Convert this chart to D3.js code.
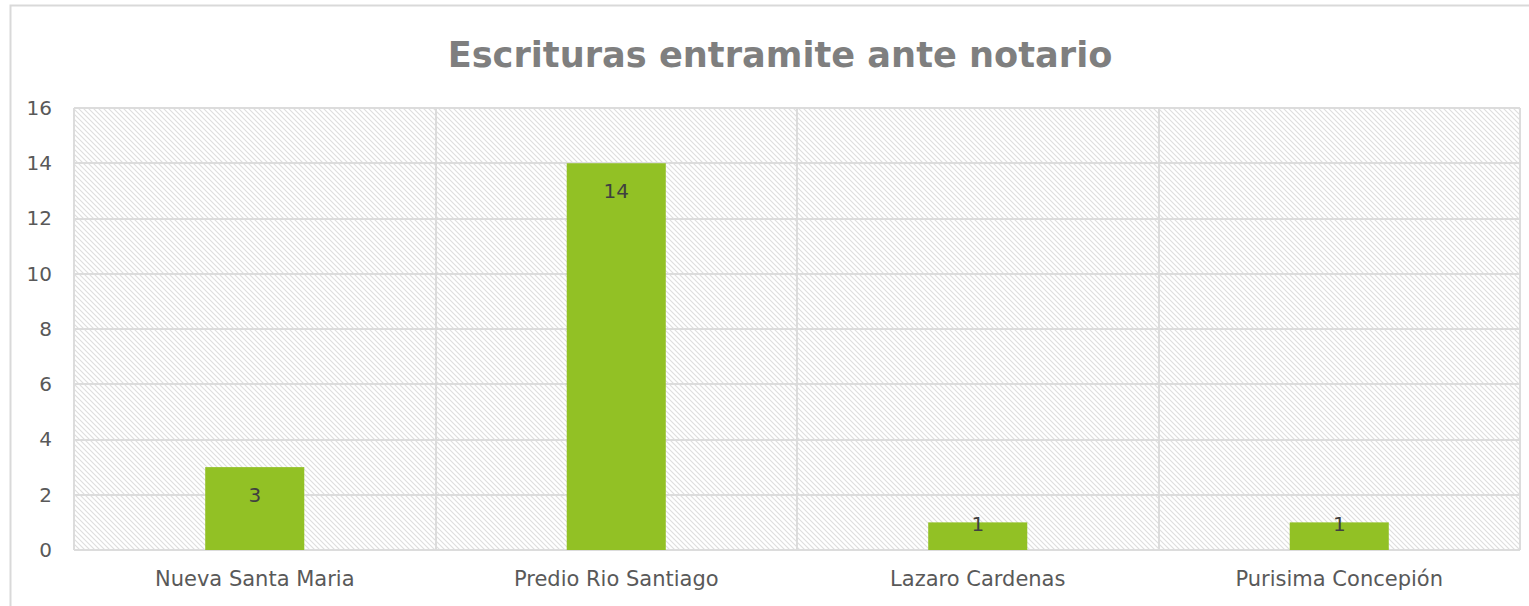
<!DOCTYPE html>
<html>
<head>
<meta charset="utf-8">
<script src="https://cdn.jsdelivr.net/npm/d3@7"></script>
<style>
  body { margin: 0; background: #fff; }
  text { font-family: "DejaVu Sans", Verdana, sans-serif; }
</style>
</head>
<body>
<div id="chart"></div>
<script>
// chart data
var categories = ["Nueva Santa Maria", "Predio Rio Santiago", "Lazaro Cardenas", "Purisima Concepión"];
var values = [3, 14, 1, 1];
var yTicks = [0, 2, 4, 6, 8, 10, 12, 14, 16];
var title = "Escrituras entramite ante notario";

var width = 1529, height = 606;
var plotLeft = 74, plotRight = 1520, plotTop = 108, plotBottom = 550;

var svg = d3.select("#chart").append("svg").attr("width", width).attr("height", height);

// hatch pattern for plot background
var defs = svg.append("defs");
var pat = defs.append("pattern").attr("id", "hatch").attr("patternUnits", "userSpaceOnUse")
  .attr("width", 5).attr("height", 5);
pat.append("rect").attr("width", 5).attr("height", 5).attr("fill", "#fff");
pat.append("path").attr("d", "M-1,-1 L6,6 M-1,4 L1,6 M4,-1 L6,1")
  .attr("stroke", "#dedede").attr("stroke-width", 1.1);

// outer chart border
svg.append("rect").attr("x", 10.5).attr("y", 5.5).attr("width", 1530).attr("height", 620)
  .attr("fill", "#fff").attr("stroke", "#d9d9d9").attr("stroke-width", 2);

var x = d3.scaleBand().domain(categories).range([plotLeft, plotRight]).paddingInner(0.726).paddingOuter(0.363);
var y = d3.scaleLinear().domain([0, 16]).range([plotBottom, plotTop]);

svg.append("rect").attr("x", plotLeft).attr("y", plotTop)
  .attr("width", plotRight - plotLeft).attr("height", plotBottom - plotTop)
  .attr("fill", "url(#hatch)");

// horizontal gridlines
svg.append("g").selectAll("line").data(yTicks).join("line")
  .attr("x1", plotLeft).attr("x2", plotRight)
  .attr("y1", function(d){ return Math.round(y(d)); })
  .attr("y2", function(d){ return Math.round(y(d)); })
  .attr("stroke", "#dcdcdc").attr("stroke-width", 2);

// vertical category separators
var step = (plotRight - plotLeft) / categories.length;
svg.append("g").selectAll("line").data(d3.range(categories.length + 1)).join("line")
  .attr("x1", function(i){ return Math.round(plotLeft + i * step); })
  .attr("x2", function(i){ return Math.round(plotLeft + i * step); })
  .attr("y1", plotTop).attr("y2", plotBottom)
  .attr("stroke", "#dcdcdc").attr("stroke-width", 2);

// y axis labels
var yAxis = d3.axisLeft(y).tickValues(yTicks).tickSize(0).tickPadding(22);
var ya = svg.append("g").attr("transform", "translate(" + plotLeft + ",0)").call(yAxis);
ya.select(".domain").remove();
ya.selectAll("text").attr("font-size", 20).attr("fill", "#595959")
  .style("font-family", "DejaVu Sans, sans-serif");

// x axis labels
var xAxis = d3.axisBottom(x).tickSize(0).tickPadding(21);
var xa = svg.append("g").attr("transform", "translate(0," + plotBottom + ")").call(xAxis);
xa.select(".domain").remove();
xa.selectAll("text").attr("font-size", 21).attr("fill", "#595959")
  .style("font-family", "DejaVu Sans, sans-serif");

// bars
svg.append("g").selectAll("rect").data(values).join("rect")
  .attr("x", function(d, i){ return x(categories[i]); })
  .attr("y", function(d){ return y(d); })
  .attr("width", x.bandwidth())
  .attr("height", function(d){ return plotBottom - y(d); })
  .attr("fill", "#92c125");

// data labels
svg.append("g").selectAll("text").data(values).join("text")
  .attr("x", function(d, i){ return x(categories[i]) + x.bandwidth() / 2; })
  .attr("y", function(d){ return Math.min(y(d) + 35, plotBottom - 19); })
  .attr("text-anchor", "middle")
  .attr("font-size", 20).attr("fill", "#404040")
  .text(function(d){ return d; });

// title
var t = svg.append("text").attr("x", 780).attr("y", 67).attr("text-anchor", "middle")
  .attr("font-size", 36).attr("font-weight", "bold").attr("fill", "#7f7f7f")
  .text(title);
var tw = t.node().getComputedTextLength();
t.attr("font-size", 36 * 665 / tw);
</script>
</body>
</html>
